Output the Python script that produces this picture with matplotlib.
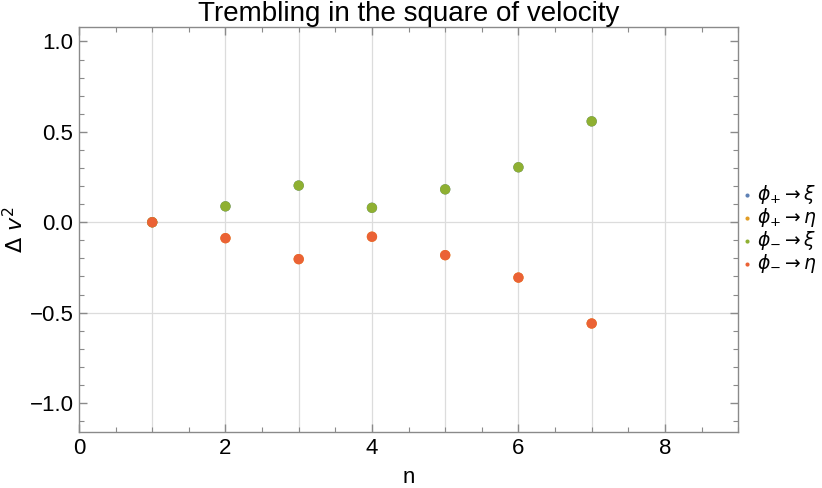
#!/usr/bin/env python3

import numpy as np
import matplotlib
matplotlib.use('Agg')
import matplotlib.pyplot as plt
from matplotlib.ticker import MultipleLocator, FixedLocator

plt.rcParams['font.family'] = ['Liberation Sans', 'DejaVu Sans']
plt.rcParams['mathtext.fontset'] = 'dejavusans'

# Data
n = [1, 2, 3, 4, 5, 6, 7]
plus_xi = [0.0, 0.088, 0.203, 0.080, 0.182, 0.304, 0.558]
plus_eta = [0.0, -0.088, -0.204, -0.080, -0.182, -0.306, -0.560]
minus_xi = [0.0, 0.088, 0.203, 0.080, 0.182, 0.304, 0.558]
minus_eta = [0.0, -0.088, -0.204, -0.080, -0.182, -0.306, -0.560]

labels = [r'$\phi_{+} \rightarrow \xi$', r'$\phi_{+} \rightarrow \eta$',
          r'$\phi_{-} \rightarrow \xi$', r'$\phi_{-} \rightarrow \eta$']
colors = ['#5E81B5', '#E19C24', '#8FB032', '#EB6235']
series = [plus_xi, plus_eta, minus_xi, minus_eta]

fig = plt.figure(figsize=(8.22, 4.88), dpi=100)
ax = fig.add_axes([0.0961, 0.1148, 0.8019, 0.8299])

for y, c, lab in zip(series, colors, labels):
    ax.scatter(n, y, s=55, color=c, edgecolors='none', label=lab, zorder=3)

ax.set_xlim(0, 9)
ax.set_ylim(-1.16, 1.08)

# grid lines like the original
for gx in range(1, 9):
    ax.axvline(gx, color='#dcdcdc', lw=0.9, zorder=1)
for gy in (0.0, -0.5):
    ax.axhline(gy, color='#dcdcdc', lw=0.9, zorder=1)

ax.xaxis.set_major_locator(MultipleLocator(2))
ax.xaxis.set_minor_locator(MultipleLocator(0.5))
ax.yaxis.set_major_locator(FixedLocator([-1.0, -0.5, 0.0, 0.5, 1.0]))
ax.yaxis.set_minor_locator(MultipleLocator(0.1))
ax.yaxis.set_major_formatter(matplotlib.ticker.FuncFormatter(
    lambda v, p: ('%.1f' % v).replace('-', '\u2212')))

frame = '#8a8a8a'
for sp in ax.spines.values():
    sp.set_color(frame)
    sp.set_linewidth(1.0)
ax.tick_params(which='both', direction='in', top=True, right=True,
               color=frame, labelsize=16, labelcolor='black')
ax.tick_params(which='major', length=6, width=1.0)
ax.tick_params(which='minor', length=3.5, width=0.8)
ax.tick_params(axis='x', pad=4)
ax.tick_params(axis='y', pad=4)

ax.set_xlabel('n', fontsize=16, labelpad=6)
ax.set_ylabel(r'$\Delta\ v^2$', fontsize=16, labelpad=1)
ax.set_title('Trembling in the square of velocity', fontsize=20, pad=3)

leg = ax.legend(loc='center left', bbox_to_anchor=(1.0, 0.5), frameon=False,
                fontsize=13.5, handletextpad=0.1, markerscale=0.4,
                handlelength=0.8, labelspacing=0.0, borderaxespad=0.0,
                borderpad=0.1)

fig.savefig('out.png', dpi=100)
